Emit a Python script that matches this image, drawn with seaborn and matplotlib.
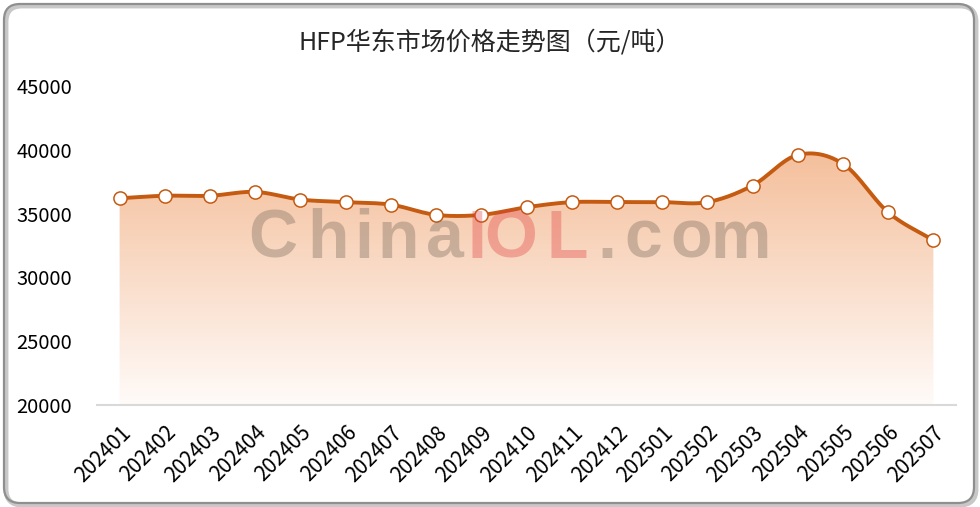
import numpy as np
import pandas as pd
import matplotlib
matplotlib.use("Agg")
import matplotlib.pyplot as plt
import seaborn as sns
from matplotlib.patches import FancyBboxPatch
from matplotlib.colors import LinearSegmentedColormap
from matplotlib.transforms import IdentityTransform

# ---------------- data ----------------
months = ["202401", "202402", "202403", "202404", "202405", "202406", "202407",
          "202408", "202409", "202410", "202411", "202412", "202501", "202502",
          "202503", "202504", "202505", "202506", "202507"]
prices = [36200, 36400, 36400, 36700, 36100, 35900, 35700,
          34900, 34900, 35500, 35900, 35900, 35900, 35900,
          37200, 39600, 38900, 35100, 32900]
y_ticks = [20000, 25000, 30000, 35000, 40000, 45000]
title = "HFP华东市场价格走势图（元/吨）"

sns.set_theme(style="white")
plt.rcParams['font.family'] = ['Noto Sans CJK SC', 'DejaVu Sans']

W, H = 980, 507
fig = plt.figure(figsize=(W / 100, H / 100), dpi=100)
fig.patch.set_facecolor("white")

# outer rounded frame (pixel coords)
shadow = FancyBboxPatch((6, 2), W - 10, H - 8,
                        boxstyle="round,pad=0,rounding_size=16",
                        transform=IdentityTransform(), facecolor="none",
                        edgecolor="#c8c8c8", lw=3.5, zorder=0)
frame = FancyBboxPatch((4, 4), W - 10, H - 8,
                       boxstyle="round,pad=0,rounding_size=16",
                       transform=IdentityTransform(), facecolor="none",
                       edgecolor="#8f8f8f", lw=1.6, zorder=0)
fig.patches.extend([shadow, frame])

ax_l, ax_r, ax_t, ax_b = 97, 956, 86, 405
ax = fig.add_axes([ax_l / W, 1 - ax_b / H, (ax_r - ax_l) / W, (ax_b - ax_t) / H])
ax.set_facecolor("none")
ax.set_zorder(2)

x = np.arange(len(months))
y = np.array(prices, dtype=float)

# Catmull-Rom smoothing (display only)
def catmull(xv, yv, n=30):
    px = np.concatenate([[2 * xv[0] - xv[1]], xv, [2 * xv[-1] - xv[-2]]])
    py = np.concatenate([[2 * yv[0] - yv[1]], yv, [2 * yv[-1] - yv[-2]]])
    xs, ys = [], []
    for i in range(1, len(px) - 2):
        t = np.linspace(0, 1, n, endpoint=False)
        for arr, out in ((px, xs), (py, ys)):
            p0, p1, p2, p3 = arr[i - 1], arr[i], arr[i + 1], arr[i + 2]
            out.extend(0.5 * ((2 * p1) + (-p0 + p2) * t +
                              (2 * p0 - 5 * p1 + 4 * p2 - p3) * t ** 2 +
                              (-p0 + 3 * p1 - 3 * p2 + p3) * t ** 3))
    xs.append(xv[-1]); ys.append(yv[-1])
    return np.array(xs), np.array(ys)

sx, sy = catmull(x, y)
smooth = pd.DataFrame({"x": sx, "y": sy})
pts = pd.DataFrame({"x": x, "y": y, "month": months})

# gradient fill under the curve
poly = ax.fill_between(sx, 20000, sy, color="none", lw=0)
cmap = LinearSegmentedColormap.from_list("g", ["#fffbf9", "#f4bd98"])
grad = np.linspace(0, 1, 256).reshape(-1, 1)
im = ax.imshow(grad, extent=[-0.5, 18.5, 20000, 40500], origin="lower",
               aspect="auto", cmap=cmap, zorder=1)
im.set_clip_path(poly.get_paths()[0], transform=ax.transData)

sns.lineplot(data=smooth, x="x", y="y", ax=ax, color="#c55a11", lw=2.8,
             sort=False, zorder=3)
sns.scatterplot(data=pts, x="x", y="y", ax=ax, s=90, color="white",
                edgecolor="#c55a11", linewidth=1.1, zorder=4)

ax.set_xlim(-0.5, 18.5)
ax.set_ylim(20000, 45000)
ax.set_yticks(y_ticks)
ax.set_yticklabels([str(v) for v in y_ticks])
ax.set_xticks(x)
ax.set_xticklabels(months, rotation=45, ha="right", rotation_mode="anchor")
ax.set_xlabel(""); ax.set_ylabel("")
ax.tick_params(axis="y", length=0, pad=18, labelsize=14.5, labelcolor="#000000")
ax.tick_params(axis="x", length=0, pad=12, labelsize=15, labelcolor="#000000")
for s in ["top", "right", "left"]:
    ax.spines[s].set_visible(False)
ax.spines["bottom"].set_color("#d9d9d9")
ax.spines["bottom"].set_linewidth(1.5)
ax.grid(False)

fig.text(0.5, 1 - 42 / H, title, ha="center", va="center", fontsize=18,
         color="#262626")

# watermark
wm = [("C", 273, "#6e6256"), ("h", 328, "#6e6256"), ("i", 364, "#6e6256"),
      ("n", 398, "#6e6256"), ("a", 445, "#6e6256"),
      ("I", 477, "#e03a3a"), ("O", 511, "#e03a3a"), ("L", 567, "#e03a3a"),
      (".", 607, "#6e6256"), ("c", 643, "#6e6256"), ("o", 691, "#6e6256"),
      ("m", 741, "#6e6256")]
for ch, cx, col in wm:
    fig.text(cx / W, 1 - 258 / H, ch, ha="center", va="baseline",
             fontsize=49, fontweight="bold", family="Liberation Sans",
             color=col, alpha=0.34, zorder=10)

fig.savefig("out.png", dpi=100, facecolor="white")
